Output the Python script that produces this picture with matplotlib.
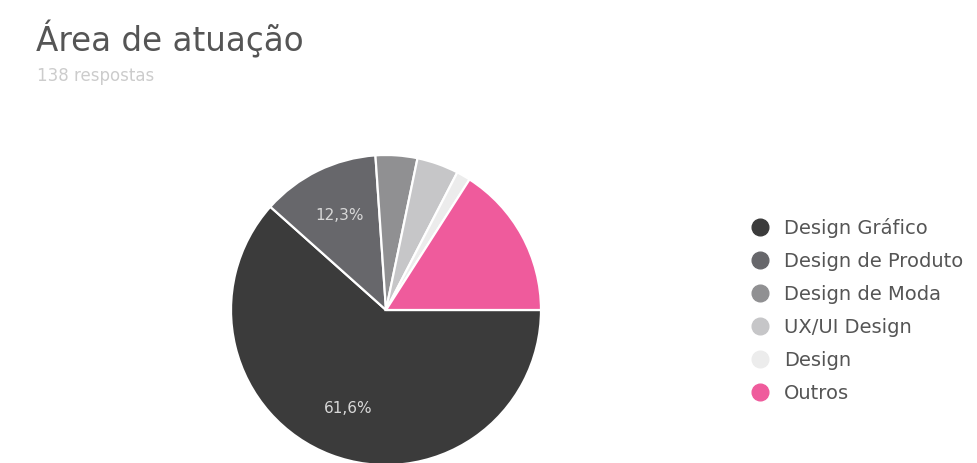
import numpy as np
import matplotlib.pyplot as plt
from matplotlib.lines import Line2D

categories = ["Design Gráfico", "Design de Produto", "Design de Moda",
              "UX/UI Design", "Design", "Outros"]
respostas = [85, 17, 6, 6, 2, 22]
colors = ["#3b3b3b", "#67676b", "#909092", "#c6c6c8", "#ececec", "#ef5b9c"]
total = sum(respostas)

plt.rcParams['font.family'] = ['DejaVu Sans']

fig = plt.figure(figsize=(9.77, 4.63), dpi=100)
fig.patch.set_facecolor("white")

# Pie axes placed in pixel terms: centre (386, 310), radius 155
W, H = 977, 463
cx, cy, r = 386, 310, 155
ax = fig.add_axes([(cx - r) / W, (H - cy - r) / H, 2 * r / W, 2 * r / H])

# Slices run clockwise from 3 o'clock, largest first
wedges, _ = ax.pie(respostas, colors=colors, startangle=0, counterclock=False,
                   wedgeprops=dict(edgecolor="white", linewidth=1.6))
ax.set_xlim(-1, 1)
ax.set_ylim(-1, 1)
ax.set_aspect("auto")
ax.axis("off")

# Percentage labels on the two largest slices
for i, w in enumerate(wedges[:2]):
    ang = np.deg2rad((w.theta1 + w.theta2) / 2)
    d = 0.68
    pct = f"{100 * respostas[i] / total:.1f}%".replace(".", ",")
    ax.text(d * np.cos(ang), d * np.sin(ang), pct, ha="center", va="center",
            color="#d8d8d8", fontsize=11)

# Title and subtitle
fig.text(36 / W, 1 - 39 / H, "Área de atuação", fontsize=23.5, color="#555555",
         ha="left", va="center")
fig.text(37 / W, 1 - 76 / H, "138 respostas", fontsize=12, color="#cccccc",
         ha="left", va="center")

# Legend
handles = [Line2D([], [], marker="o", linestyle="none", markersize=12,
                  markerfacecolor=c, markeredgecolor=c) for c in colors]
fig.legend(handles, categories, loc="upper left",
           bbox_to_anchor=(742 / W, 1 - 210 / H), frameon=False,
           fontsize=14, labelcolor="#555555", handletextpad=0.75,
           labelspacing=0.72, handlelength=1.0, borderaxespad=0)

fig.savefig("out.png", dpi=100, facecolor="white")
